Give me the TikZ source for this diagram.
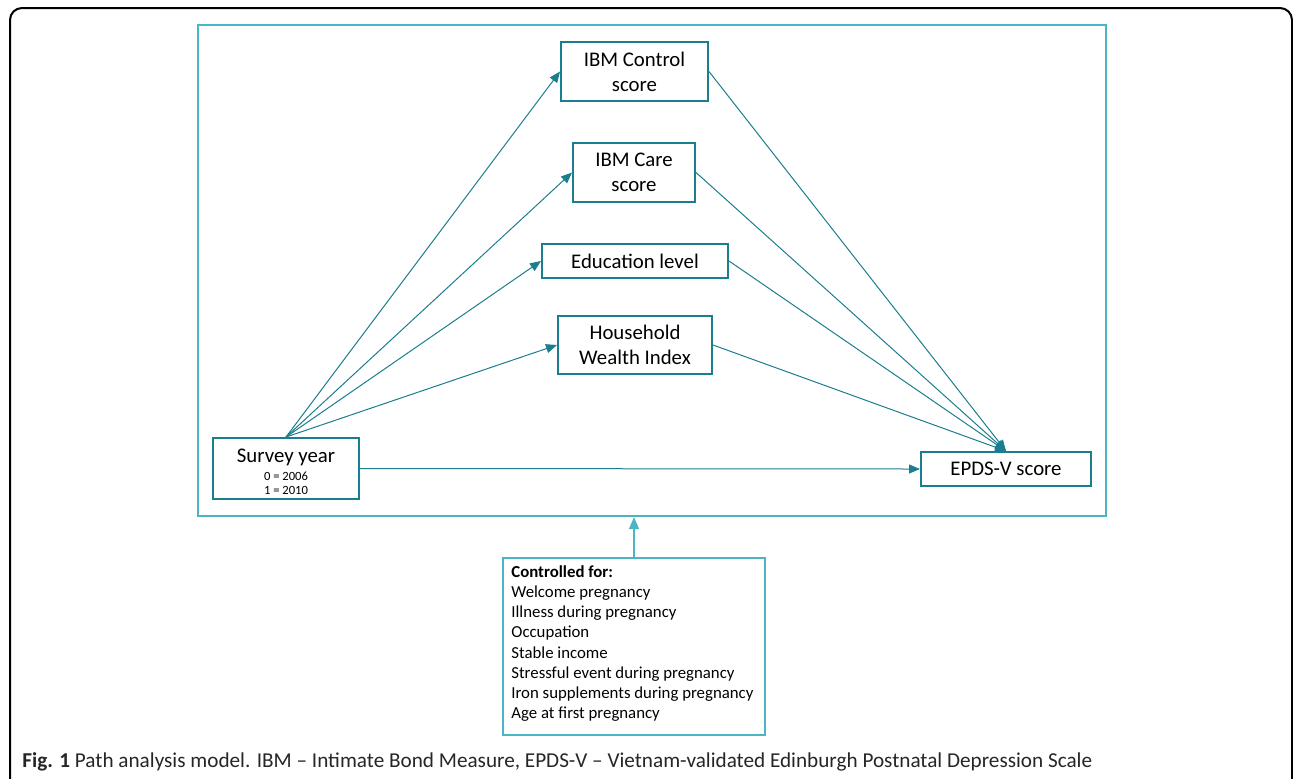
\documentclass[tikz,border=0pt]{standalone}
\usepackage{fontspec}
\setmainfont{Carlito}
\usetikzlibrary{arrows.meta}
\definecolor{dteal}{HTML}{1B7E8E}
\definecolor{lteal}{HTML}{4AB6C4}
\tikzset{
  box/.style={draw=dteal, line width=1pt, fill=white, inner sep=0pt, align=center, font=\fontsize{10.4}{12.5}\selectfont},
  path/.style={draw=dteal, line width=0.5pt, -{Triangle[length=5.5pt,width=4.5pt]}},
}
\begin{document}
\begin{tikzpicture}[x=0.5pt,y=-0.5pt]
\useasboundingbox (0,0) rectangle (1293,778);
\clip (0,0) rectangle (1293,778);
\draw[black, line width=1pt, rounded corners=6pt] (10,8) rectangle (1292,820);
\node[draw=lteal, line width=1pt, minimum width=454pt, minimum height=245.5pt, inner sep=0pt] (frame) at (652,270.5) {};
\node[box, minimum width=73.5pt, minimum height=29.5pt] (ctrl) at (634.5,71.5) {IBM Control\\score};
\node[box, minimum width=61pt, minimum height=29.5pt] (care) at (634,172.5) {IBM Care\\score};
\node[box, minimum width=93pt, minimum height=17pt] (edu) at (635,261) {Education level};
\node[box, minimum width=77pt, minimum height=29pt] (hh) at (635,345) {Household\\Wealth Index};
\node[box, minimum width=73pt, minimum height=30.5pt] (sy) at (286,468.5) {};
\node[anchor=base, inner sep=0pt, font=\fontsize{10.4}{12}\selectfont] (syt) at (286,462) {Survey year};
\node[anchor=base, inner sep=0pt, font=\fontsize{6.3}{7}\selectfont] (sya) at (286,480) {0 = 2006};
\node[anchor=base, inner sep=0pt, font=\fontsize{6.3}{7}\selectfont] (syb) at (286,494) {1 = 2010};
\node[box, minimum width=85pt, minimum height=17pt] (epds) at (1006,469) {EPDS-V score};
\node[draw=lteal, line width=1pt, fill=white, minimum width=131pt, minimum height=88.5pt, inner sep=0pt] (cf) at (634,646.5) {};
\node[anchor=north west, inner sep=0pt, align=left, font=\fontsize{8.4}{10.1}\selectfont] (cft) at (511,565) {\textbf{Controlled for:}\\Welcome pregnancy\\Illness during pregnancy\\Occupation\\Stable income\\Stressful event during pregnancy\\Iron supplements during pregnancy\\Age at first pregnancy};
\draw[lteal, line width=0.6pt, -{Triangle[length=6pt,width=5pt]}] (cf.north) -- (cf.north |- frame.south);
\draw[path] (sy.north) -- (ctrl.west);
\draw[path] (sy.north) -- (care.west);
\draw[path] (sy.north) -- (edu.west);
\draw[path] (sy.north) -- (hh.west);
\draw[path] (sy.east) -- (epds.west);
\draw[path] (ctrl.east) -- (epds.north);
\draw[path] (care.east) -- (epds.north);
\draw[path] (edu.east) -- (epds.north);
\draw[path] (hh.east) -- (epds.north);
\node[anchor=base west, inner sep=0pt, font=\fontsize{10.6}{12}\selectfont, text=black!85] (cap) at (22,767) {\textbf{Fig. 1} Path analysis model. IBM -- Intimate Bond Measure, EPDS-V -- Vietnam-validated Edinburgh Postnatal Depression Scale};
\end{tikzpicture}
\end{document}
